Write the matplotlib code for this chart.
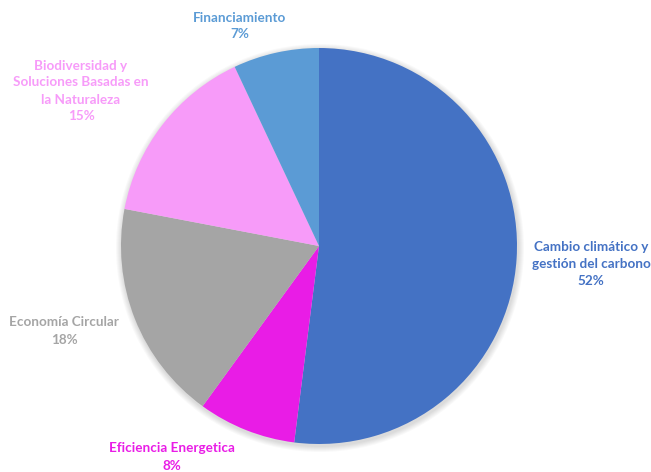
import matplotlib.pyplot as plt
from matplotlib.patches import Circle

# Distribución por área temática
categorias = ["Cambio climático y\ngestión del carbono", "Eficiencia Energetica",
              "Economía Circular", "Biodiversidad y\nSoluciones Basadas en\nla Naturaleza",
              "Financiamiento"]
valores = [52, 8, 18, 15, 7]
colores = ["#4472C4", "#E91CE6", "#A5A5A5", "#F79BF9", "#5B9BD5"]
colores_texto = ["#4472C4", "#E91CE6", "#A5A5A5", "#F79BF9", "#5B9BD5"]

# posiciones de las etiquetas (pixeles, origen abajo a la izquierda)
pos_etiquetas = [(591, 208), (172, 15), (64, 141), (81, 381), (240, 446)]

plt.rcParams['font.family'] = ['Lato', 'DejaVu Sans']

fig = plt.figure(figsize=(6.51, 4.72), dpi=100)
ax = fig.add_axes([0, 0, 1, 1])

cx, cy, r = 319, 226, 198

# sombra suave
for i in range(6):
    ax.add_patch(Circle((cx + 1, cy - 2), r + 1 + i, color='black', alpha=0.025, lw=0, zorder=0))

ax.pie(valores, colors=colores, startangle=90, counterclock=False,
       center=(cx, cy), radius=r, frame=True,
       wedgeprops=dict(linewidth=0))

for nombre, v, c, (x, y) in zip(categorias, valores, colores_texto, pos_etiquetas):
    ax.text(x, y, nombre + "\n" + str(v) + "%", color=c, fontsize=9.7, fontweight='bold',
            ha='center', va='center', linespacing=1.5)

ax.set_xlim(0, 651)
ax.set_ylim(0, 472)
ax.set_aspect('equal')
ax.axis('off')

fig.savefig("out.png", dpi=100)
